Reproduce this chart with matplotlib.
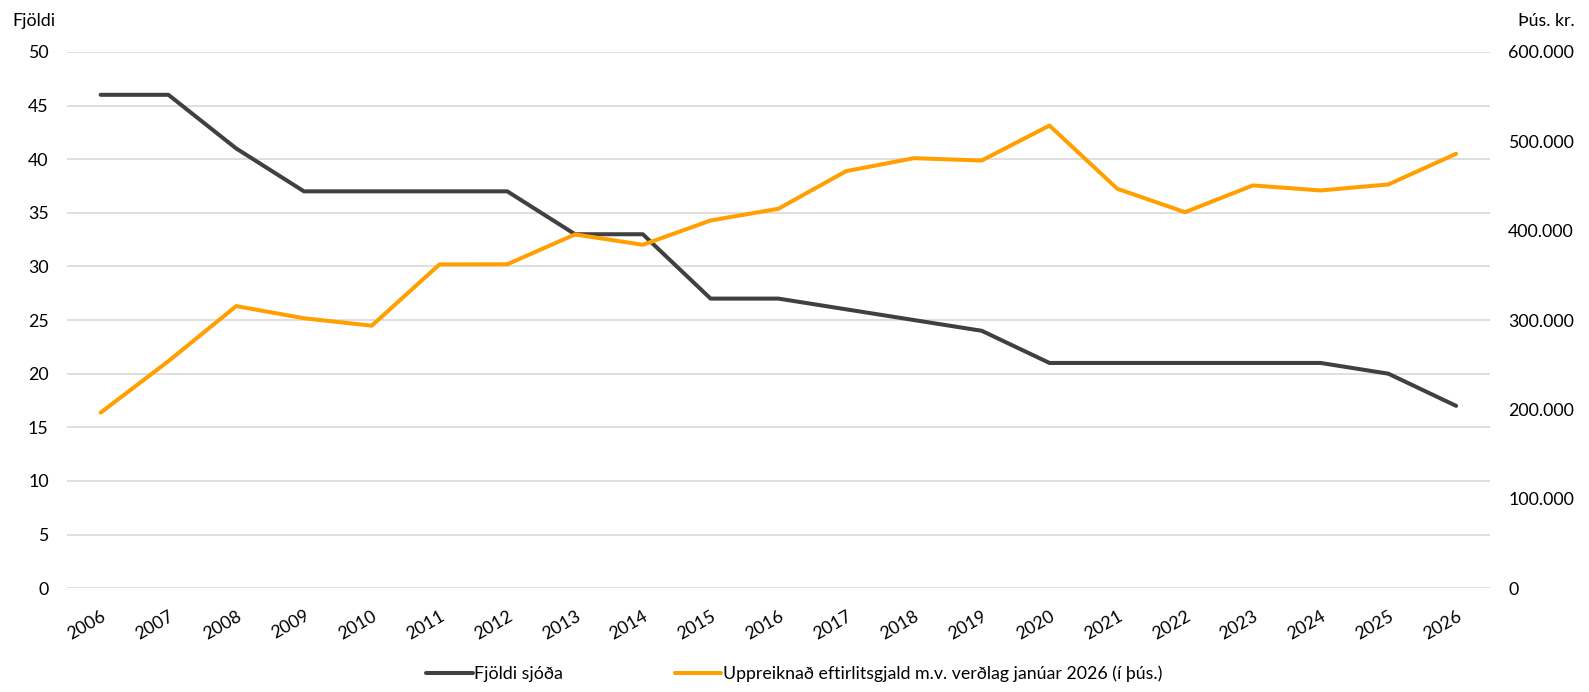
import matplotlib.pyplot as plt
from matplotlib.ticker import FuncFormatter, MultipleLocator
import numpy as np

plt.rcParams['font.family'] = ['Lato', 'DejaVu Sans']

# Data
years = [str(y) for y in range(2006, 2027)]
fjoldi = [46, 46, 41, 37, 37, 37, 37, 33, 33, 27, 27,
          26, 25, 24, 21, 21, 21, 21, 21, 20, 17]
gjald = [196400, 254000, 315600, 302000, 293700, 362200, 362400, 395800,
         384200, 411400, 424500, 466600, 481100, 478500, 517600, 446900,
         420700, 450600, 445000, 451700, 486000]

dark = '#404040'
orange = '#FFA000'

fig = plt.figure(figsize=(15.89, 6.92), dpi=100)
ax1 = fig.add_axes([0.042, 0.150, 0.8957, 0.775])
ax2 = ax1.twinx()

x = np.arange(len(years))
l1, = ax1.plot(x, fjoldi, color=dark, lw=2.9, solid_capstyle='round',
               solid_joinstyle='round', zorder=3)
l2, = ax2.plot(x, gjald, color=orange, lw=2.9, solid_capstyle='round',
               solid_joinstyle='round', zorder=3)

ax1.set_xlim(-0.5, len(years) - 0.5)
ax1.set_ylim(0, 50)
ax2.set_ylim(0, 600000)
ax1.yaxis.set_major_locator(MultipleLocator(5))
ax2.yaxis.set_major_locator(MultipleLocator(100000))
ax2.yaxis.set_major_formatter(
    FuncFormatter(lambda v, p: f'{int(v):,}'.replace(',', '.')))

ax1.set_xticks(x)
ax1.set_xticklabels(years, rotation=30, ha='right', rotation_mode='anchor')

ax1.grid(axis='y', color='#D9D9D9', lw=1.2)
ax1.set_axisbelow(True)
for ax in (ax1, ax2):
    for s in ax.spines.values():
        s.set_visible(False)
    ax.tick_params(length=0, labelsize=12.8, colors='black')
ax1.tick_params(axis='y', pad=13)
ax2.tick_params(axis='y', pad=13)
ax1.tick_params(axis='x', pad=14)

fig.text(0.0075, 0.97, 'Fjöldi', fontsize=12.8, va='center', ha='left')
fig.text(0.991, 0.97, 'Þús. kr.', fontsize=12.8, va='center', ha='right')

fig.legend([l1, l2], ['Fjöldi sjóða',
                      'Uppreiknað eftirlitsgjald m.v. verðlag janúar 2026 (í þús.)'],
           loc='center', bbox_to_anchor=(0.5, 0.026), ncol=2, frameon=False,
           fontsize=12.8, handlelength=2.6, handletextpad=0.1, columnspacing=6.3)

plt.savefig('out.png', dpi=100)
